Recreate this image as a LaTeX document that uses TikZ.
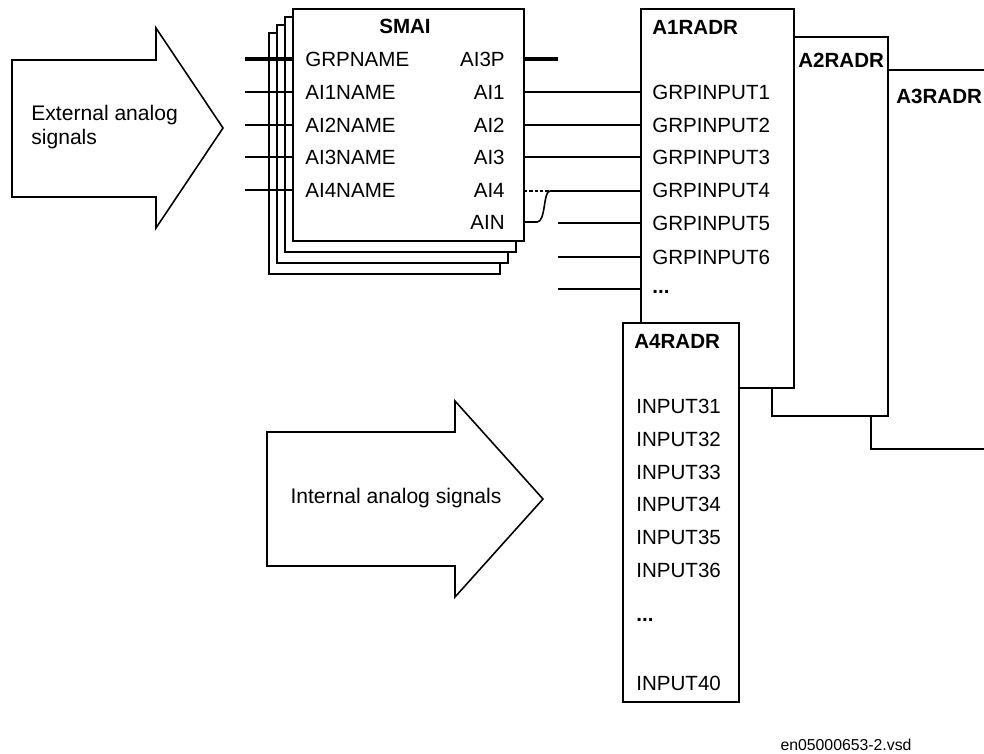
\documentclass[tikz,border=0pt]{standalone}
\usepackage{fontspec}
\setmainfont{Liberation Sans}
\usepackage{xcolor}
\definecolor{Ink}{HTML}{000000}

\begin{document}
\begin{tikzpicture}[
	x=0.02cm, y=-0.02cm, % one unit is one pixel, y runs downwards
	font=\fontsize{11.7}{13.5}\selectfont,
	% Style for the function blocks
	block/.style={
		rectangle,
		draw=Ink,
		fill=white,
		line width=0.9pt,
		inner sep=0pt,
		outer sep=0pt,
		anchor=north west
	},
	% Style for the signal names inside the blocks
	port/.style={
		inner sep=0pt,
		anchor=west
	},
	outport/.style={
		inner sep=0pt,
		anchor=east
	},
	% Style for the block names
	title/.style={
		inner sep=0pt,
		font=\fontsize{11.7}{13.5}\selectfont\bfseries
	},
	% Style for the connections
	wire/.style={
		draw=Ink,
		line width=0.9pt
	},
	bus/.style={
		draw=Ink,
		line width=2.8pt
	},
	% Style for the two big arrows
	bigarrow/.style={
		draw=Ink,
		fill=white,
		line width=0.9pt,
		line join=miter
	}
	]
	
	\useasboundingbox (0,0) rectangle (984,754);
	\clip (0,0) rectangle (984,754);
	
	% 1. Big arrows
	\draw[bigarrow] (12,60) -- (156,60) -- (156,28) -- (223,128) -- (156,228)
		-- (156,197) -- (12,197) -- cycle;
	\node[anchor=west, align=left, inner sep=0pt, font=\fontsize{12}{13.5}\selectfont] (ext) at (31,127)
		{External analog\\signals};
	
	\draw[bigarrow] (267,432) -- (455,432) -- (455,401) -- (543,499) -- (455,597)
		-- (455,566) -- (267,566) -- cycle;
	\node[inner sep=0pt, font=\fontsize{12}{13.5}\selectfont] (int) at (396,498) {Internal analog signals};
	
	% 2. SMAI block with its copies behind it
	\foreach \k in {3,2,1}
		\node[block, minimum width=4.62cm, minimum height={4.64cm+\k*0.06cm}]
			(smai\k) at ({293-8*\k},{9+8*\k}) {};
	\node[block, minimum width=4.62cm, minimum height=4.64cm] (smai) at (293,9) {};
	
	\node[title] (smaititle) at (405,26) {SMAI};
	\node[port] (grpname) at (305,59) {GRPNAME};
	\node[port] (ai1name) at (305,92) {AI1NAME};
	\node[port] (ai2name) at (305,125) {AI2NAME};
	\node[port] (ai3name) at (305,157) {AI3NAME};
	\node[port] (ai4name) at (305,190) {AI4NAME};
	
	\node[outport] (ai3p) at (505,59) {AI3P};
	\node[outport] (ai1) at (505,92) {AI1};
	\node[outport] (ai2) at (505,125) {AI2};
	\node[outport] (ai3) at (505,157) {AI3};
	\node[outport] (ai4) at (505,190) {AI4};
	\node[outport] (ain) at (505,222) {AIN};
	
	% 3. RADR blocks, back to front
	\node[block, minimum width=2.58cm, minimum height=7.58cm] (a3) at (871,70) {};
	\node[block, minimum width=2.32cm, minimum height=7.58cm] (a2) at (772,37) {};
	\node[block, minimum width=3.06cm, minimum height=7.58cm] (a1) at (641,9) {};
	\node[block, minimum width=2.32cm, minimum height=7.58cm] (a4) at (623,323) {};
	
	\node[title, anchor=west] (a3title) at (896,96) {A3RADR};
	\node[title, anchor=west] (a2title) at (798,60) {A2RADR};
	\node[title, anchor=west] (a1title) at (652,27) {A1RADR};
	\node[title, anchor=west] (a4title) at (634,341) {A4RADR};
	
	\node[port] (gin1) at (652,92) {GRPINPUT1};
	\node[port] (gin2) at (652,125) {GRPINPUT2};
	\node[port] (gin3) at (652,157) {GRPINPUT3};
	\node[port] (gin4) at (652,190) {GRPINPUT4};
	\node[port] (gin5) at (652,223) {GRPINPUT5};
	\node[port] (gin6) at (652,257) {GRPINPUT6};
	\node[port] (ginmore) at (652,292) {\textbf{...}};
	
	\node[port] (in31) at (636,406) {INPUT31};
	\node[port] (in32) at (636,439) {INPUT32};
	\node[port] (in33) at (636,472) {INPUT33};
	\node[port] (in34) at (636,504) {INPUT34};
	\node[port] (in35) at (636,537) {INPUT35};
	\node[port] (in36) at (636,570) {INPUT36};
	\node[port] (inmore) at (636,620) {\textbf{...}};
	\node[port] (in40) at (636,683) {INPUT40};
	
	% 4. Connections into SMAI
	\coordinate (x0) at (245,59);
	\coordinate (x1) at (245,92);
	\coordinate (x2) at (245,125);
	\coordinate (x3) at (245,157);
	\coordinate (x4) at (245,190);
	\draw[bus] (x0) -- (smai.west |- x0);
	\foreach \i in {1,...,4}
		\draw[wire] (x\i) -- (smai.west |- x\i);
	
	% 5. Connections from SMAI to A1RADR
	\coordinate (busend) at (558,59);
	\draw[bus] (smai.east |- ai3p) -- (busend);
	\draw[wire] (smai.east |- ai1) -- (a1.west |- ai1);
	\draw[wire] (smai.east |- ai2) -- (a1.west |- ai2);
	\draw[wire] (smai.east |- ai3) -- (a1.west |- ai3);
	
	\coordinate (dotend) at (560,191);
	\coordinate (join) at (550,191);
	\draw[wire, dash pattern=on 2pt off 1pt] (smai.east |- dotend) -- (dotend);
	\draw[wire] (join) -- (a1.west |- join);
	\draw[wire] (smai.east |- ain) -- (537,222) .. controls (546,222) and (543,191) .. (join);
	
	\coordinate (free5) at (558,223);
	\coordinate (free6) at (558,257);
	\coordinate (free7) at (558,289);
	\draw[wire] (free5) -- (a1.west |- free5);
	\draw[wire] (free6) -- (a1.west |- free6);
	\draw[wire] (free7) -- (a1.west |- free7);
	
	% 6. File name
	\node[inner sep=0pt, font=\fontsize{9}{11}\selectfont] (fname) at (846,745) {en05000653-2.vsd};
	
\end{tikzpicture}
\end{document}
